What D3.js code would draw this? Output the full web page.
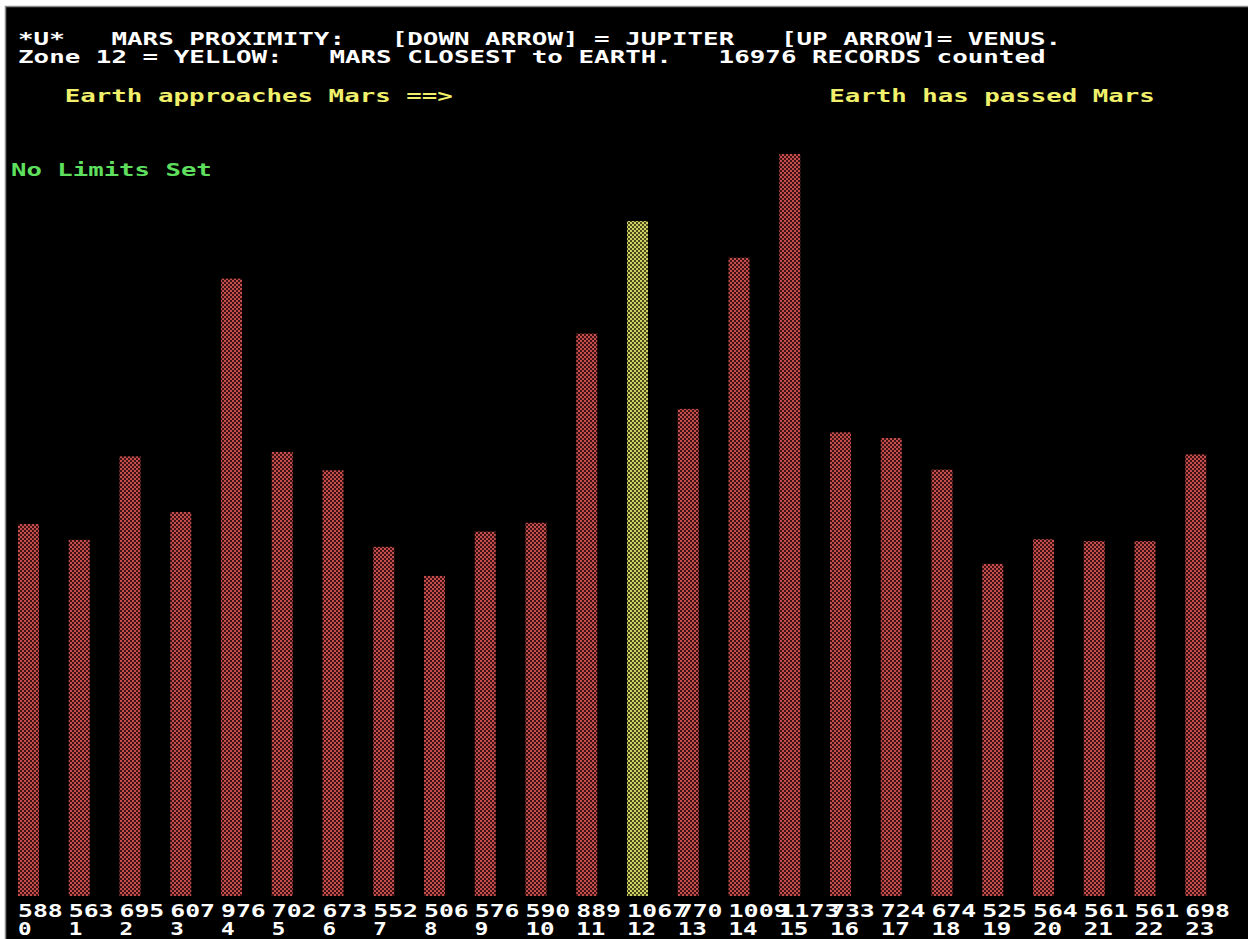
<!DOCTYPE html>
<html>
<head>
<meta charset="utf-8">
<script src="https://cdn.jsdelivr.net/npm/d3@7"></script>
<style>
  html, body { margin: 0; padding: 0; background: #ffffff; }
  svg { display: block; }
  text { white-space: pre; font-family: "DejaVu Sans Mono", "Liberation Mono", monospace; font-weight: bold; }
</style>
</head>
<body>
<script>
// ---- data ----
const zones = ["0","1","2","3","4","5","6","7","8","9","10","11","12","13","14","15","16","17","18","19","20","21","22","23"];
const counts = [588,563,695,607,976,702,673,552,506,576,590,889,1067,770,1009,1173,733,724,674,525,564,561,561,698];
const closestZone = "12";
const headerLines = [
  "*U*   MARS PROXIMITY:   [DOWN ARROW] = JUPITER   [UP ARROW]= VENUS.",
  "Zone 12 = YELLOW:   MARS CLOSEST to EARTH.   16976 RECORDS counted"
];
const leftNote = "Earth approaches Mars ==>";
const rightNote = "Earth has passed Mars";
const limitNote = "No Limits Set";

// ---- layout ----
const W = 1248, H = 939;
const CW = 15.6;          // character cell width
const FS = 18;            // font size
const svg = d3.select("body").append("svg").attr("width", W).attr("height", H);

const defs = svg.append("defs");
function checker(id, c1, c2) {
  const p = defs.append("pattern").attr("id", id).attr("patternUnits", "userSpaceOnUse")
    .attr("width", 4).attr("height", 4);
  p.append("rect").attr("width", 4).attr("height", 4).attr("fill", c2);
  p.append("rect").attr("width", 2).attr("height", 2).attr("fill", c1);
  p.append("rect").attr("x", 2).attr("y", 2).attr("width", 2).attr("height", 2).attr("fill", c1);
}
checker("redChk", "#c44e4e", "#3e1212");
checker("yelChk", "#d0d068", "#4a4a18");

// screen
svg.append("rect").attr("x", 5).attr("y", 6).attr("width", W - 5).attr("height", H - 6).attr("fill", "#000");
svg.append("line").attr("x1", 5).attr("x2", W).attr("y1", 6.5).attr("y2", 6.5).attr("stroke", "#8a8a8a").attr("stroke-width", 1.5);
svg.append("line").attr("x1", 5.5).attr("x2", 5.5).attr("y1", 6).attr("y2", H).attr("stroke", "#8a8a8a").attr("stroke-width", 1.5);

function mono(x, y, str, color) {
  const n = str.length;
  return svg.append("text")
    .attr("x", x).attr("y", y)
    .attr("font-size", FS)
    .attr("fill", color)
    .attr("textLength", n * CW - 2)
    .attr("lengthAdjust", "spacingAndGlyphs")
    .text(str);
}

// header
const col0 = 18;
mono(col0, 45, headerLines[0], "#ffffff");
mono(col0, 63, headerLines[1], "#ffffff");
mono(col0 + 3 * CW, 102, leftNote, "#f0f06a");
mono(col0 + 52 * CW, 102, rightNote, "#f0f06a");
mono(11, 176, limitNote, "#5ee05e");

// scales
const step = 50.75, bw = 21;
const x = d3.scaleBand().domain(zones)
  .range([18, 18 + (zones.length - 1) * step + bw])
  .paddingInner(1 - bw / step).paddingOuter(0);
const y = d3.scaleLinear().domain([0, d3.max(counts)]).range([896, 154]);

const data = zones.map((z, i) => ({ zone: z, count: counts[i] }));

svg.append("g").selectAll("rect").data(data).join("rect")
  .attr("x", d => x(d.zone))
  .attr("y", d => y(d.count))
  .attr("width", x.bandwidth())
  .attr("height", d => y(0) - y(d.count))
  .attr("fill", d => d.zone === closestZone ? "url(#yelChk)" : "url(#redChk)");

// value labels (drawn in order so later labels overprint earlier ones)
const lab = svg.append("g");
data.forEach(d => {
  const s = String(d.count);
  lab.append("text")
    .attr("x", x(d.zone)).attr("y", 917)
    .attr("font-size", FS).attr("fill", "#ffffff")
    .attr("textLength", s.length * CW - 2).attr("lengthAdjust", "spacingAndGlyphs")
    .text(s);
  lab.append("text")
    .attr("x", x(d.zone)).attr("y", 935)
    .attr("font-size", FS).attr("fill", "#ffffff")
    .attr("textLength", d.zone.length * CW - 2).attr("lengthAdjust", "spacingAndGlyphs")
    .text(d.zone);
});
</script>
</body>
</html>
